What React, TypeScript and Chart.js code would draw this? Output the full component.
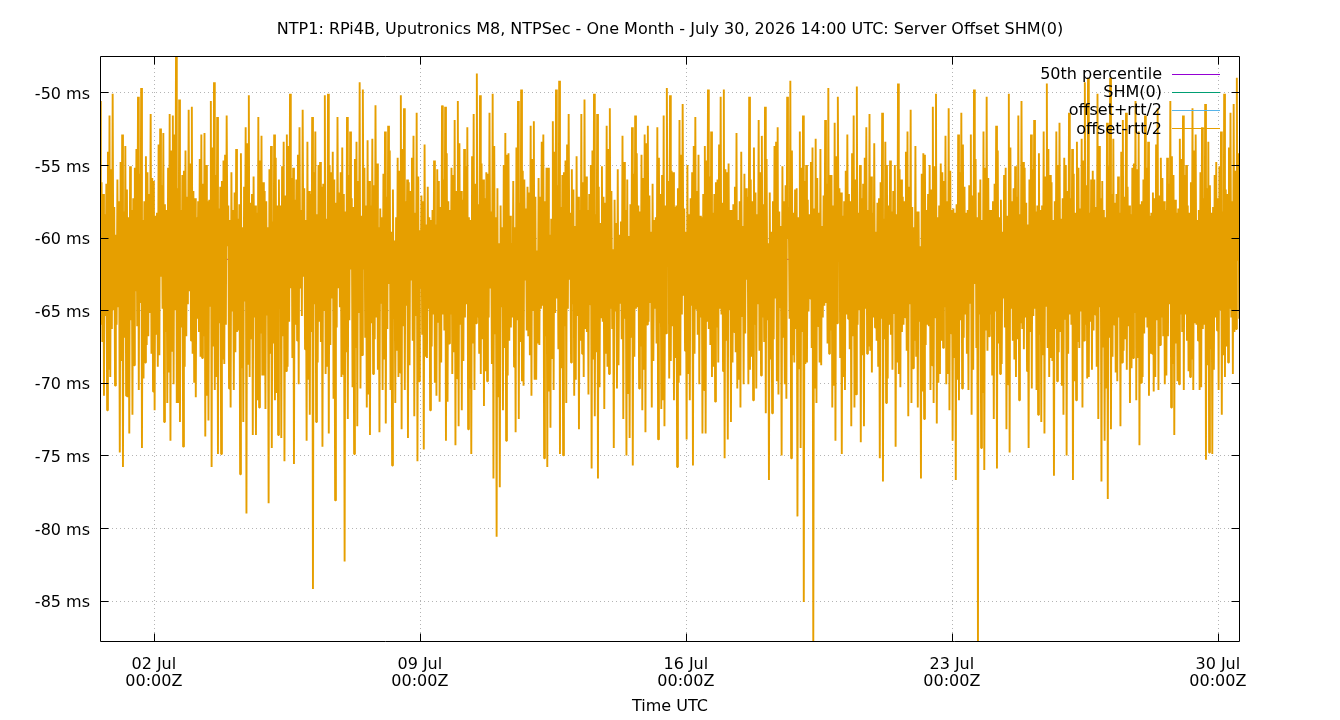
import React, { useEffect, useRef } from "react";
import { Chart, registerables } from "chart.js";

Chart.register(...registerables);

const TITLE =
  "NTP1: RPi4B, Uputronics M8, NTPSec - One Month - July 30, 2026 14:00 UTC: Server Offset SHM(0)";
const X_LABEL = "Time UTC";
const START = Date.UTC(2026, 5, 30, 14, 0);
const END = Date.UTC(2026, 6, 30, 14, 0);
const X_TICKS = [
  Date.UTC(2026, 6, 2),
  Date.UTC(2026, 6, 9),
  Date.UTC(2026, 6, 16),
  Date.UTC(2026, 6, 23),
  Date.UTC(2026, 6, 30),
];
const MONTHS = ["Jan", "Feb", "Mar", "Apr", "May", "Jun", "Jul", "Aug", "Sep", "Oct", "Nov", "Dec"];
const Y_TICKS = [-85, -80, -75, -70, -65, -60, -55, -50];
const Y_MIN = -87.85;
const Y_MAX = -47.5;
const MEDIAN = -61.5;
const SERIES_NAMES = ["50th percentile", "SHM(0)", "offset+rtt/2", "offset-rtt/2"];
const SERIES_COLORS = ["#9400d3", "#009e73", "#56b4e9", "#e69f00"];

// per 2-hour bin, first hour: highest offset reading (ms)
const OFFSET_HIGH = [
  -50.6, -57.0, -56.3, -51.6, -50.1, -59.8, -57.5, -52.9, -53.7, -58.6,
  -58.1, -55.2, -50.3, -49.7, -57.5, -55.5, -51.5, -56.1, -58.3, -52.5,
  -52.8, -58.1, -51.5, -51.6, -47.5, -50.5, -55.7, -54.0, -51.2, -51.0,
  -57.3, -57.5, -52.9, -52.8, -57.5, -50.6, -49.3, -51.7, -56.5, -54.7,
  -51.6, -58.8, -58.1, -53.9, -57.7, -59.3, -52.4, -50.2, -57.0, -57.8,
  -51.7, -53.0, -56.8, -59.3, -53.7, -52.9, -57.8, -57.8, -53.4, -52.9,
  -50.1, -55.2, -56.0, -52.4, -51.2, -58.8, -56.8, -51.7, -52.7, -55.0,
  -56.5, -50.2, -50.1, -55.5, -56.0, -51.7, -55.5, -57.0, -51.7, -52.7,
  -57.9, -53.4, -49.3, -49.8, -57.8, -56.1, -53.2, -50.9, -59.3, -58.6,
  -52.7, -52.3, -59.6, -60.2, -54.5, -50.2, -51.1, -56.0, -56.8, -53.0,
  -51.4, -59.5, -57.5, -59.1, -58.6, -58.1, -59.1, -56.1, -50.9, -51.0,
  -57.5, -55.2, -51.9, -50.6, -56.8, -53.9, -52.4, -58.8, -51.5, -48.7,
  -50.2, -56.0, -55.5, -51.4, -50.1, -58.6, -60.4, -59.3, -52.8, -54.2,
  -60.4, -59.3, -50.6, -49.8, -56.0, -56.5, -52.3, -52.0, -60.9, -57.2,
  -52.9, -55.2, -59.8, -52.0, -49.8, -49.2, -55.7, -54.7, -51.5, -55.3,
  -59.2, -57.2, -51.5, -50.5, -58.1, -55.0, -50.1, -51.5, -59.0, -57.2,
  -52.3, -51.1, -60.8, -59.0, -59.8, -53.0, -58.1, -59.9, -52.4, -51.6,
  -57.8, -54.3, -52.9, -52.3, -59.6, -58.8, -52.4, -57.0, -51.6, -49.7,
  -50.2, -55.5, -57.8, -51.9, -50.8, -59.6, -58.4, -55.5, -51.7, -54.3,
  -58.6, -53.7, -49.8, -52.7, -57.0, -56.0, -50.3, -49.8, -55.5, -58.1,
  -57.7, -52.8, -57.5, -59.2, -56.6, -50.3, -57.5, -56.9, -51.9, -53.0,
  -51.0, -60.4, -59.6, -53.7, -52.4, -59.2, -57.5, -50.3, -49.2, -58.3,
  -56.6, -52.7, -51.6, -55.0, -58.4, -53.8, -53.2, -58.3, -59.2, -51.9,
  -49.7, -55.7, -52.1, -50.3, -56.9, -57.5, -52.9, -57.5, -51.6, -49.6,
  -55.0, -56.3, -52.4, -51.5, -58.3, -59.6, -57.3, -51.4, -53.4, -57.8,
  -58.2, -55.0, -49.4, -56.0, -57.5, -52.7, -51.2, -59.3, -58.2, -60.6,
  -54.2, -58.1, -55.0, -51.0, -50.1, -57.8, -55.5, -53.0, -51.1, -58.1,
  -58.3, -52.9, -51.4, -56.5, -58.1, -52.9, -49.8, -58.6, -56.0, -52.7,
  -50.3, -58.1, -57.5, -52.3, -58.6, -59.6, -55.2, -50.1, -57.5, -55.1,
  -51.6, -50.6, -55.2, -59.1, -52.9, -51.9, -57.8, -58.1, -52.7, -49.4,
  -55.7, -58.8, -52.7, -52.1, -57.3, -55.0, -51.4, -53.9, -58.3, -55.2,
  -53.2, -49.3, -49.0, -56.0, -56.0, -50.1, -57.3, -58.1, -52.1, -49.0,
  -53.2, -57.0, -58.3, -51.9, -51.4, -57.8, -55.2, -50.6, -52.7, -57.5,
  -51.6, -53.4, -58.3, -57.3, -51.1, -54.5, -57.5, -54.5, -50.6, -55.7,
  -58.3, -53.2, -51.6, -55.0, -58.3, -51.1, -52.9, -58.1, -52.4, -50.8,
  -53.4, -58.3, -55.7, -57.3, -52.7, -50.1, -57.0, -51.4, -50.8, -49.0,
];

// per 2-hour bin, first hour: lowest offset reading (ms)
const OFFSET_LOW = [
  -66.0, -70.9, -71.9, -69.6, -65.0, -66.0, -74.8, -75.8, -70.9, -73.5,
  -72.2, -63.7, -70.5, -74.5, -68.6, -66.8, -68.0, -71.9, -68.9, -62.7,
  -72.7, -71.4, -74.0, -70.1, -71.4, -72.7, -74.4, -66.8, -63.7, -68.0,
  -71.0, -66.5, -68.3, -73.7, -72.6, -75.8, -70.5, -74.9, -74.9, -68.7,
  -60.6, -71.7, -70.5, -66.5, -76.3, -72.7, -79.0, -69.6, -73.6, -73.6,
  -71.7, -69.5, -71.8, -78.3, -74.5, -71.2, -73.6, -73.8, -75.4, -68.9,
  -63.5, -75.6, -67.1, -63.5, -62.7, -74.0, -72.2, -84.2, -72.7, -65.8,
  -74.4, -69.4, -73.5, -64.2, -78.1, -63.5, -69.6, -82.3, -72.5, -62.2,
  -74.9, -73.0, -70.4, -62.2, -71.7, -73.6, -69.4, -65.5, -73.4, -70.5,
  -72.8, -63.2, -75.7, -71.4, -69.6, -73.2, -70.5, -73.8, -62.9, -72.3,
  -75.4, -63.5, -74.6, -68.3, -71.9, -65.3, -70.9, -71.3, -65.3, -74.0,
  -67.3, -69.4, -74.3, -73.0, -71.9, -65.5, -73.2, -74.9, -70.5, -65.5,
  -69.4, -71.6, -69.9, -63.5, -76.6, -80.6, -77.2, -71.9, -74.0, -67.1,
  -65.5, -73.4, -72.5, -69.9, -62.9, -66.8, -70.9, -69.8, -67.3, -64.9,
  -75.2, -75.8, -73.1, -70.5, -64.2, -74.9, -75.0, -71.4, -62.9, -64.6,
  -69.8, -73.2, -68.0, -66.3, -70.8, -75.9, -72.3, -76.6, -65.5, -71.8,
  -68.9, -64.9, -74.5, -70.4, -64.5, -72.5, -75.0, -73.8, -75.7, -64.9,
  -70.4, -71.9, -73.4, -65.8, -71.7, -64.9, -73.9, -71.8, -73.0, -61.6,
  -68.5, -71.2, -75.8, -69.5, -64.0, -73.9, -71.2, -75.7, -64.9, -70.1,
  -73.5, -73.5, -66.3, -69.6, -71.3, -68.6, -65.3, -75.2, -73.9, -72.7,
  -66.5, -70.4, -71.7, -70.1, -62.9, -69.1, -71.2, -70.4, -67.8, -65.5,
  -72.1, -76.7, -72.1, -64.2, -70.8, -75.0, -70.1, -60.1, -75.2, -68.6,
  -79.2, -74.5, -85.1, -68.6, -64.2, -87.8, -71.4, -68.6, -65.5, -64.5,
  -68.0, -71.7, -74.0, -60.9, -74.9, -70.5, -65.6, -73.0, -71.7, -66.0,
  -74.1, -73.0, -68.0, -67.8, -65.5, -67.1, -75.2, -76.8, -71.4, -66.0,
  -69.1, -74.4, -69.4, -66.5, -65.5, -72.3, -71.4, -67.1, -71.7, -76.6,
  -72.5, -66.0, -70.5, -71.4, -72.8, -69.4, -67.6, -70.1, -71.9, -74.0,
  -76.7, -71.2, -70.4, -65.3, -70.5, -72.2, -63.2, -87.8, -74.5, -76.0,
  -67.8, -65.3, -72.5, -75.9, -69.4, -64.2, -73.2, -74.8, -67.1, -69.6,
  -71.2, -66.3, -65.5, -74.5, -70.4, -64.9, -72.2, -72.7, -73.5, -67.6,
  -68.3, -76.4, -69.9, -66.5, -72.2, -75.0, -65.3, -76.7, -71.2, -67.6,
  -71.7, -66.0, -69.6, -69.1, -65.3, -72.5, -76.8, -74.0, -78.0, -73.2,
  -66.0, -69.9, -73.0, -67.8, -69.1, -71.4, -68.3, -71.2, -74.3, -69.6,
  -65.5, -70.9, -68.0, -69.6, -70.5, -65.5, -70.1, -66.8, -71.7, -73.6,
  -69.9, -65.3, -70.5, -67.1, -69.6, -70.5, -66.0, -70.5, -66.3, -75.3,
  -74.8, -74.9, -65.5, -70.5, -72.2, -69.6, -68.6, -65.5, -66.5, -61.6,
];

// per 2-hour bin, second hour: highest offset reading (ms)
const OFFSET_HIGH_2 = [
  -56.2, -58.4, -54.1, -55.3, -57.9, -56.0, -54.8, -58.2, -56.7, -55.1,
  -57.3, -53.9, -55.6, -58.8, -54.4, -57.0, -55.9, -58.5, -53.6, -56.4,
  -57.7, -55.2, -54.0, -52.9, -56.6, -58.1, -55.4, -57.2, -54.9, -56.8,
  -58.6, -54.6, -56.3, -55.0, -57.4, -53.8, -55.7, -58.0, -56.1, -54.3,
  -57.8, -55.5, -56.9, -58.7, -54.2, -56.5, -53.5, -57.6, -55.8, -58.3,
  -54.7, -56.2, -57.5, -55.3, -58.9, -54.5, -56.0, -55.1, -57.1, -53.7,
  -55.9, -57.4, -54.3, -58.1, -56.6, -53.4, -57.0, -55.5, -58.4, -54.8,
  -56.3, -58.7, -55.0, -54.1, -57.6, -56.9, -53.8, -58.2, -55.7, -57.3,
  -54.6, -56.1, -58.5, -55.2, -53.3, -57.8, -56.4, -54.9, -58.0, -55.6,
  -57.2, -54.0, -56.7, -58.6, -55.4, -53.9, -57.5, -56.2, -54.5, -58.3,
  -55.8, -57.1, -53.6, -56.5, -58.8, -54.7, -55.3, -57.9, -56.0, -54.2,
  -58.1, -55.7, -56.8, -53.5, -57.4, -55.1, -58.6, -54.4, -56.3, -57.7,
  -54.9, -57.3, -55.6, -58.2, -53.7, -56.6, -57.8, -55.0, -54.3, -58.5,
  -56.1, -53.8, -57.6, -55.4, -58.0, -56.9, -54.6, -57.2, -55.9, -53.4,
  -57.5, -55.2, -58.7, -54.1, -56.4, -57.9, -55.5, -53.6, -58.3, -56.7,
  -54.4, -58.1, -56.2, -55.8, -57.0, -54.0, -58.4, -56.5, -55.1, -57.6,
  -53.9, -56.8, -57.4, -55.3, -58.9, -54.8, -56.0, -57.7, -55.6, -54.2,
  -58.2, -55.9, -53.5, -57.1, -56.3, -58.6, -54.5, -55.7, -57.8, -56.1,
  -55.4, -57.9, -56.6, -54.3, -58.0, -55.0, -57.3, -53.7, -56.8, -58.5,
  -57.0, -54.7, -55.8, -58.3, -56.2, -53.6, -57.6, -55.3, -54.9, -58.1,
  -56.5, -58.8, -54.1, -55.6, -57.2, -56.0, -53.8, -58.4, -55.5, -57.7,
  -54.6, -56.9, -57.5, -53.4, -58.2, -55.1, -56.4, -57.9, -54.0, -56.7,
  -58.6, -55.2, -56.1, -57.4, -54.8, -58.0, -55.9, -53.9, -57.1, -56.3,
  -55.7, -57.8, -54.4, -56.6, -58.5, -55.4, -57.0, -54.2, -56.0, -58.3,
  -57.3, -54.5, -58.1, -55.8, -53.5, -57.6, -56.2, -58.7, -55.0, -54.7,
  -56.8, -58.4, -55.3, -57.2, -54.1, -56.5, -57.9, -53.7, -58.2, -55.6,
  -54.3, -57.0, -56.7, -55.1, -58.6, -54.9, -56.1, -57.5, -55.4, -58.0,
  -57.7, -55.5, -53.6, -58.3, -56.4, -57.1, -54.6, -56.9, -58.8, -55.2,
  -55.9, -58.1, -56.3, -54.0, -57.4, -55.7, -58.5, -53.8, -56.6, -57.2,
  -58.4, -54.8, -57.6, -56.0, -55.3, -58.2, -54.2, -57.8, -55.8, -53.9,
  -56.2, -57.5, -55.0, -58.7, -54.5, -56.8, -57.3, -55.6, -53.4, -58.0,
  -54.7, -56.4, -58.3, -55.4, -57.9, -53.7, -56.1, -58.6, -55.1, -57.0,
  -57.6, -55.8, -54.1, -57.2, -56.5, -58.4, -54.9, -55.3, -57.7, -56.0,
  -55.2, -58.5, -56.9, -53.6, -57.1, -55.9, -58.1, -56.3, -54.4, -57.4,
  -58.0, -54.6, -55.7, -57.8, -56.2, -54.0, -58.8, -55.5, -57.3, -56.6,
  -56.4, -57.9, -54.8, -55.1, -58.2, -56.7, -53.8, -57.5, -55.4, -54.2,
];

// per 2-hour bin, second hour: lowest offset reading (ms)
const OFFSET_LOW_2 = [
  -67.2, -65.4, -69.1, -66.3, -70.2, -64.8, -68.5, -66.9, -71.0, -65.7,
  -68.8, -66.1, -64.5, -69.7, -67.4, -65.2, -70.6, -66.7, -68.1, -64.9,
  -66.5, -69.3, -67.8, -65.0, -71.4, -66.2, -68.9, -64.6, -67.1, -70.0,
  -65.6, -68.2, -66.8, -70.9, -64.7, -67.5, -69.6, -65.9, -68.4, -66.0,
  -70.4, -65.1, -67.9, -66.4, -69.0, -64.4, -68.7, -67.0, -65.5, -71.2,
  -66.6, -69.5, -65.3, -68.0, -67.3, -70.7, -64.9, -66.8, -69.2, -65.8,
  -68.3, -66.0, -70.1, -65.4, -67.7, -69.8, -66.5, -64.6, -68.6, -67.2,
  -65.0, -68.9, -67.4, -71.1, -66.2, -64.8, -69.4, -67.9, -65.7, -70.3,
  -67.6, -65.2, -68.1, -66.9, -70.8, -65.9, -67.0, -69.1, -64.5, -68.4,
  -66.3, -70.5, -65.6, -67.8, -69.3, -66.1, -64.7, -68.8, -67.1, -65.4,
  -69.9, -66.7, -68.2, -64.9, -67.5, -70.0, -65.8, -68.6, -66.4, -71.3,
  -65.3, -67.9, -69.7, -66.0, -68.5, -64.6, -70.4, -67.3, -65.9, -68.0,
  -67.0, -69.2, -65.5, -68.7, -66.6, -71.0, -64.8, -67.6, -69.5, -66.2,
  -68.9, -65.7, -67.2, -70.2, -66.4, -68.1, -65.0, -69.8, -67.4, -64.7,
  -66.8, -70.6, -68.3, -65.2, -67.7, -69.0, -66.1, -64.9, -68.6, -70.9,
  -65.4, -67.1, -69.6, -66.5, -64.6, -68.4, -67.9, -70.3, -65.8, -68.0,
  -69.4, -66.3, -65.1, -68.8, -67.0, -65.6, -70.7, -66.9, -68.2, -64.8,
  -67.5, -69.1, -66.0, -64.5, -68.5, -67.3, -65.9, -71.2, -66.6, -69.7,
  -66.1, -68.3, -70.0, -65.3, -67.8, -69.4, -64.7, -68.0, -66.7, -65.5,
  -70.5, -65.8, -67.4, -68.9, -66.2, -64.9, -69.2, -67.1, -65.0, -68.6,
  -67.9, -69.8, -65.4, -66.6, -70.1, -68.2, -66.0, -64.6, -69.5, -67.2,
  -65.7, -68.4, -67.0, -69.9, -64.8, -66.9, -71.1, -65.6, -68.1, -66.3,
  -69.0, -66.5, -68.7, -65.1, -67.6, -70.4, -66.1, -68.8, -64.7, -67.3,
  -66.4, -70.2, -65.9, -68.3, -69.6, -65.3, -67.7, -66.8, -70.8, -65.0,
  -68.1, -64.9, -67.5, -69.3, -66.2, -68.9, -65.6, -67.0, -69.7, -66.7,
  -65.2, -68.6, -70.3, -66.0, -67.8, -64.6, -69.0, -68.2, -65.8, -70.6,
  -67.4, -66.1, -68.8, -65.5, -70.0, -67.1, -64.8, -69.4, -66.6, -68.3,
  -69.8, -65.7, -66.9, -68.0, -64.5, -69.1, -67.6, -65.3, -70.7, -66.4,
  -66.8, -69.5, -65.1, -67.3, -68.7, -66.2, -70.1, -64.9, -68.4, -67.0,
  -65.9, -67.7, -69.2, -66.5, -65.4, -70.5, -66.7, -68.1, -64.7, -69.6,
  -68.5, -66.3, -67.9, -70.2, -65.6, -68.0, -66.0, -69.9, -67.2, -65.1,
  -67.1, -69.7, -65.8, -66.4, -68.9, -64.8, -67.5, -70.4, -66.9, -68.2,
  -69.3, -65.5, -68.6, -67.0, -66.1, -69.0, -65.2, -68.3, -70.0, -66.6,
  -66.2, -68.0, -70.6, -65.7, -67.4, -66.8, -69.5, -64.6, -68.7, -67.3,
  -70.1, -66.5, -65.3, -69.2, -68.4, -65.9, -67.1, -70.3, -66.0, -68.8,
  -67.7, -69.1, -66.4, -65.0, -68.1, -67.5, -64.9, -69.4, -66.3, -65.6,
];

const FONT = "'DejaVu Sans', sans-serif";
const FONT_SIZE = 16;

function buildOffsetSeries() {
  const step = (END - START) / OFFSET_HIGH.length;
  const pts: { x: number; y: number }[] = [];
  OFFSET_HIGH.forEach((h, i) => {
    const t = START + i * step;
    pts.push({ x: t, y: h });
    pts.push({ x: t + 0.25 * step, y: OFFSET_LOW[i] });
    pts.push({ x: t + 0.5 * step, y: OFFSET_HIGH_2[i] });
    pts.push({ x: t + 0.75 * step, y: OFFSET_LOW_2[i] });
  });
  return pts;
}

function fmtTick(v: number): string[] {
  const d = new Date(v);
  const day = String(d.getUTCDate()).padStart(2, "0");
  const hh = String(d.getUTCHours()).padStart(2, "0");
  const mm = String(d.getUTCMinutes()).padStart(2, "0");
  return [`${day} ${MONTHS[d.getUTCMonth()]}`, `${hh}:${mm}Z`];
}

const gnuplotDecor = {
  id: "gnuplotDecor",
  beforeDatasetsDraw(chart: any) {
    const { ctx, chartArea: a, scales } = chart;
    const xs = scales.x;
    const ys = scales.y;
    ctx.save();
    ctx.strokeStyle = "#b4b4b4";
    ctx.lineWidth = 1;
    ctx.setLineDash([1, 3]);
    xs.ticks.forEach((t: any) => {
      const px = Math.round(xs.getPixelForValue(t.value)) + 0.5;
      ctx.beginPath();
      ctx.moveTo(px, a.top);
      ctx.lineTo(px, a.bottom);
      ctx.stroke();
    });
    ys.ticks.forEach((t: any) => {
      const py = Math.round(ys.getPixelForValue(t.value)) + 0.5;
      ctx.beginPath();
      ctx.moveTo(a.left, py);
      ctx.lineTo(a.right, py);
      ctx.stroke();
    });
    ctx.restore();
  },
  afterDatasetsDraw(chart: any) {
    const { ctx, chartArea: a, scales } = chart;
    const xs = scales.x;
    const ys = scales.y;
    const L = a.left + 0.5;
    const R = a.right - 0.5;
    const T = a.top + 0.5;
    const B = a.bottom - 0.5;
    ctx.save();
    ctx.strokeStyle = "#000";
    ctx.lineWidth = 1;
    ctx.setLineDash([]);
    ctx.beginPath();
    ctx.rect(L, T, R - L, B - T);
    ctx.stroke();
    const tl = 8;
    ctx.beginPath();
    xs.ticks.forEach((t: any) => {
      const px = Math.round(xs.getPixelForValue(t.value)) + 0.5;
      ctx.moveTo(px, B);
      ctx.lineTo(px, B - tl);
      ctx.moveTo(px, T);
      ctx.lineTo(px, T + tl);
    });
    ys.ticks.forEach((t: any) => {
      const py = Math.round(ys.getPixelForValue(t.value)) + 0.5;
      ctx.moveTo(L, py);
      ctx.lineTo(L + tl, py);
      ctx.moveTo(R, py);
      ctx.lineTo(R - tl, py);
    });
    ctx.stroke();

    // title and axis label
    ctx.fillStyle = "#000";
    ctx.font = `${FONT_SIZE}px ${FONT}`;
    ctx.textAlign = "center";
    ctx.textBaseline = "middle";
    ctx.fillText(TITLE, 670, 30);
    ctx.fillText(X_LABEL, 670, 707);

    // key
    SERIES_NAMES.forEach((name, i) => {
      const y = 74.5 + 18.3 * i;
      ctx.textAlign = "right";
      ctx.fillStyle = "#000";
      ctx.fillText(name, 1162, y);
      ctx.strokeStyle = SERIES_COLORS[i];
      ctx.lineWidth = 1;
      ctx.beginPath();
      ctx.moveTo(1172, Math.round(y - 1) + 0.5);
      ctx.lineTo(1220, Math.round(y - 1) + 0.5);
      ctx.stroke();
    });
    ctx.restore();
  },
};

export default function App() {
  const ref = useRef<HTMLCanvasElement>(null);
  useEffect(() => {
    document.body.style.margin = "0";
    const offsetPts = buildOffsetSeries();
    const medianPts = [
      { x: START, y: MEDIAN },
      { x: END, y: MEDIAN },
    ];
    const chart = new Chart(ref.current as HTMLCanvasElement, {
      type: "line",
      data: {
        datasets: [
          {
            label: SERIES_NAMES[0],
            data: medianPts,
            borderColor: SERIES_COLORS[0],
            borderWidth: 1,
            pointRadius: 0,
            order: 4,
          },
          {
            // SHM(0) coincides with the offset-rtt/2 trace and is fully covered by it
            label: SERIES_NAMES[1],
            data: offsetPts,
            borderColor: SERIES_COLORS[1],
            showLine: false,
            pointRadius: 0,
            order: 3,
          },
          {
            label: SERIES_NAMES[2],
            data: offsetPts,
            borderColor: SERIES_COLORS[2],
            showLine: false,
            pointRadius: 0,
            order: 2,
          },
          {
            label: SERIES_NAMES[3],
            data: offsetPts,
            borderColor: SERIES_COLORS[3],
            borderWidth: 1.9,
            pointRadius: 0,
            borderJoinStyle: "bevel",
            order: 1,
          },
        ],
      },
      options: {
        animation: false,
        responsive: false,
        devicePixelRatio: 1,
        parsing: false,
        normalized: true,
        events: [],
        layout: { padding: { top: 56, right: 100, left: 0, bottom: 0 } },
        plugins: {
          legend: { display: false },
          tooltip: { enabled: false },
          title: { display: false },
        },
        scales: {
          x: {
            type: "linear",
            min: START,
            max: END,
            grid: { display: false, drawTicks: false },
            border: { display: false },
            afterFit: (s: any) => {
              s.height = 78;
            },
            afterBuildTicks: (s: any) => {
              s.ticks = X_TICKS.map((v) => ({ value: v }));
            },
            ticks: {
              autoSkip: false,
              maxRotation: 0,
              minRotation: 0,
              padding: 14,
              color: "#000",
              font: { family: FONT, size: FONT_SIZE, lineHeight: 1.0625 },
              callback: (v: any) => fmtTick(Number(v)),
            },
          },
          y: {
            type: "linear",
            min: Y_MIN,
            max: Y_MAX,
            grid: { display: false, drawTicks: false },
            border: { display: false },
            afterFit: (s: any) => {
              s.width = 100;
            },
            afterBuildTicks: (s: any) => {
              s.ticks = Y_TICKS.map((v) => ({ value: v }));
            },
            ticks: {
              padding: 10,
              labelOffset: 2.5,
              color: "#000",
              font: { family: FONT, size: FONT_SIZE },
              callback: (v: any) => `${v} ms`,
            },
          },
        },
      },
      plugins: [gnuplotDecor],
    } as any);
    return () => chart.destroy();
  }, []);
  return (
    <div style={{ width: 1340, height: 720 }}>
      <canvas ref={ref} width={1340} height={720} style={{ display: "block" }} />
    </div>
  );
}
